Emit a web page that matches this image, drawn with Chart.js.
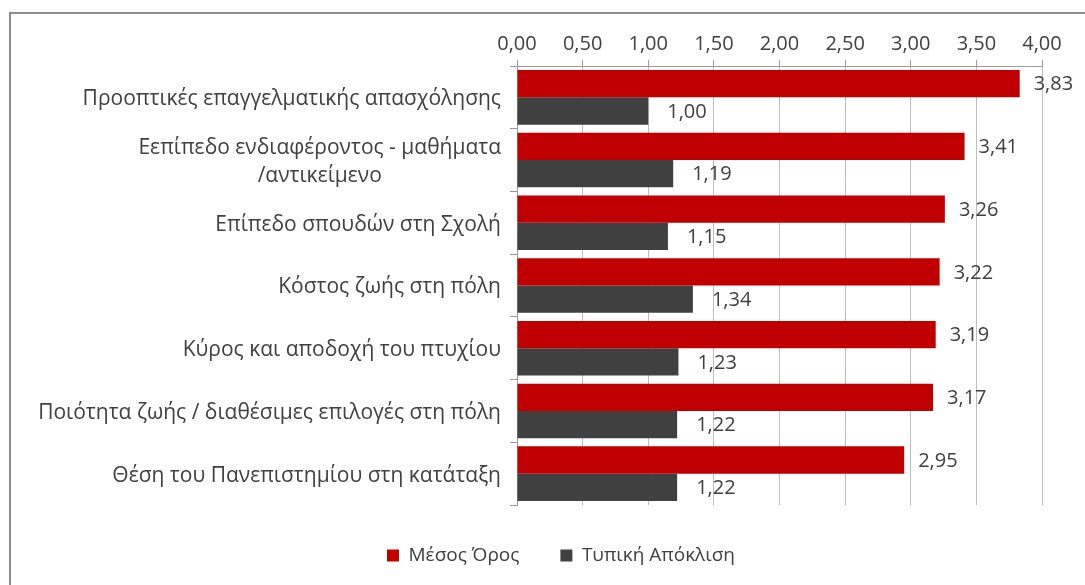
<!DOCTYPE html>
<html>
<head>
<meta charset="utf-8">
<script src="https://cdn.jsdelivr.net/npm/chart.js@4.4.0/dist/chart.umd.min.js"></script>
<style>
  html, body { margin: 0; padding: 0; background: #fff; overflow: hidden; }
  #wrap { position: relative; width: 1085px; height: 585px; overflow: hidden; }
  #frame { position: absolute; left: 9px; top: 12px; width: 1100px; height: 600px;
           border-left: 2px solid #8c8c8c; border-top: 2px solid #8c8c8c; }
  canvas { position: absolute; left: 0; top: 0; }
</style>
</head>
<body>
<div id="wrap">
  <div id="frame"></div>
  <canvas id="chart" width="1085" height="585"></canvas>
</div>
<script>
const categories = [
  'Προοπτικές επαγγελματικής απασχόλησης',
  ['Εεπίπεδο ενδιαφέροντος - μαθήματα', '/αντικείμενο'],
  'Επίπεδο σπουδών στη Σχολή',
  'Κόστος ζωής στη πόλη',
  'Κύρος και αποδοχή του πτυχίου',
  'Ποιότητα ζωής / διαθέσιμες επιλογές στη πόλη',
  'Θέση του Πανεπιστημίου στη κατάταξη'
];
const meanValues = [3.83, 3.41, 3.26, 3.22, 3.19, 3.17, 2.95];
const sdValues = [1.00, 1.19, 1.15, 1.34, 1.23, 1.22, 1.22];
const seriesNames = ['Μέσος Όρος', 'Τυπική Απόκλιση'];

const FONT = '"Open Sans", sans-serif';
const textColor = '#404040';

function fmt(v) {
  return v.toFixed(2).replace('.', ',');
}

// value labels right of the bars + category labels (multi-line centred)
const labelsPlugin = {
  id: 'labels',
  afterLayout(chart) {
    // legend sits a bit right of the canvas centre in the original
    chart.legend.left += 40;
    chart.legend.right += 40;
  },
  afterDatasetsDraw(chart) {
    const ctx = chart.ctx;
    ctx.save();
    ctx.font = '20px ' + FONT;
    ctx.fillStyle = textColor;
    ctx.textBaseline = 'middle';
    ctx.textAlign = 'left';
    chart.data.datasets.forEach((ds, i) => {
      const meta = chart.getDatasetMeta(i);
      meta.data.forEach((bar, j) => {
        const off = i === 0 ? 14 : 19;
        ctx.fillText(fmt(ds.data[j]), bar.x + off, bar.y + 1);
      });
    });

    const y = chart.scales.y;
    ctx.font = '21px ' + FONT;
    ctx.textAlign = 'center';
    const right = y.right - 16;
    categories.forEach((c, j) => {
      const lines = Array.isArray(c) ? c : [c];
      const w = Math.max(...lines.map(l => ctx.measureText(l).width));
      const cx = right - w / 2;
      const cy = y.getPixelForValue(j);
      const lh = 28;
      lines.forEach((l, k) => {
        ctx.fillText(l, cx, cy + 2 + (k - (lines.length - 1) / 2) * lh);
      });
    });
    ctx.restore();
  }
};

new Chart(document.getElementById('chart').getContext('2d'), {
  type: 'bar',
  data: {
    labels: categories,
    datasets: [{
      label: seriesNames[0],
      data: meanValues,
      backgroundColor: '#c00000',
      barPercentage: 1,
      categoryPercentage: 0.87
    }, {
      label: seriesNames[1],
      data: sdValues,
      backgroundColor: '#404040',
      barPercentage: 1,
      categoryPercentage: 0.87
    }]
  },
  options: {
    indexAxis: 'y',
    responsive: false,
    animation: false,
    layout: { padding: { top: 28, right: 43, left: 0, bottom: 10 } },
    scales: {
      x: {
        position: 'top',
        min: 0,
        max: 4,
        ticks: {
          stepSize: 0.5,
          color: textColor,
          font: { family: FONT, size: 20 },
          padding: 4,
          callback: v => fmt(v)
        },
        grid: { color: '#bdbdbd', tickLength: 6, tickColor: '#9a9a9a' },
        border: { color: '#9a9a9a' }
      },
      y: {
        ticks: { display: false },
        afterFit: s => { s.width = 517; },
        grid: { drawOnChartArea: false, tickLength: 7, color: '#9a9a9a' },
        border: { color: '#9a9a9a' }
      }
    },
    plugins: {
      legend: {
        position: 'bottom',
        labels: {
          color: textColor,
          font: { family: FONT, size: 19 },
          boxWidth: 12,
          boxHeight: 12,
          padding: 41
        }
      },
      tooltip: { enabled: false }
    }
  },
  plugins: [labelsPlugin]
});
</script>
</body>
</html>
